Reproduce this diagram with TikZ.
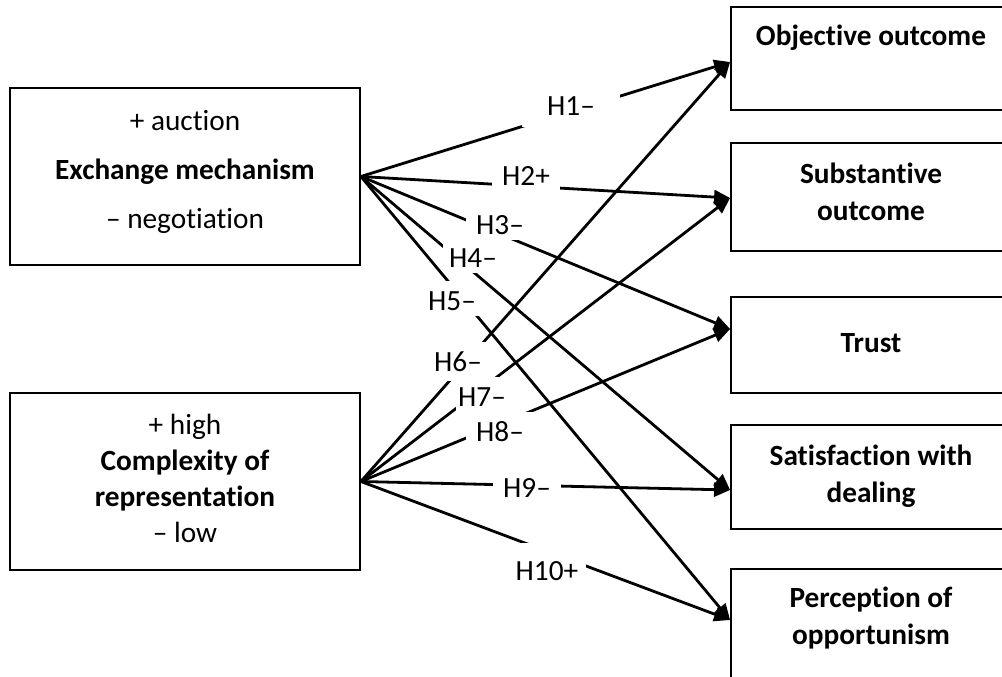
\documentclass[tikz,border=0pt]{standalone}
\usepackage{fontspec}
\setmainfont{Carlito}[Ligatures={NoCommon,NoContextual}]
\usetikzlibrary{arrows.meta}
\begin{document}
\begin{tikzpicture}[x=1pt,y=-1pt,
  txt/.style={font=\fontsize{29.3}{36}\selectfont},
  box/.style={draw, line width=1.8pt, inner sep=0pt},
  lbox/.style={box, minimum width=350pt, minimum height=177pt},
  rbox/.style={box, minimum width=280pt},
  ltext/.style={align=center, inner sep=0pt, txt},
  rtext/.style={align=center, inner sep=0pt, font=\fontsize{29.3}{37}\selectfont\bfseries},
  arr/.style={line width=2.8pt, -{Triangle[length=16pt,width=14pt]}},
  hyp/.style={fill=white, inner xsep=10pt, inner ysep=3pt, text height=27pt, text depth=2pt, anchor=base, txt}
]
\useasboundingbox (0,0) rectangle (1002,677);
\clip (0,0) rectangle (1002,677);

% left boxes
\node[lbox, label={[ltext, yshift=4.5pt]center:{+ auction\\[13pt]\textbf{Exchange mechanism}\\[13pt]– negotiation}}] (ex) at (185,176.5) {};
\node[lbox, label={[ltext, yshift=3.5pt]center:{+ high\\\textbf{Complexity of}\\\textbf{representation}\\– low}}] (cx) at (185,481.5) {};

% right boxes
\node[rbox, minimum height=103pt, label={[rtext, yshift=21pt]center:Objective outcome}] (obj) at (871,58.5) {};
\node[rbox, minimum height=108pt, label={[rtext, yshift=5pt]center:{Substantive\\outcome}}] (sub) at (871,197) {};
\node[rbox, minimum height=96pt, label={[rtext, yshift=2pt]center:Trust}] (tru) at (871,345) {};
\node[rbox, minimum height=104pt, label={[rtext, yshift=1pt]center:{Satisfaction with\\dealing}}] (sat) at (871,477) {};
\node[rbox, minimum height=125pt, label={[rtext, yshift=13pt]center:{Perception of\\opportunism}}] (per) at (871,631.5) {};

% arrows
\draw[arr] (ex.east) -- ([yshift=-3.5pt]obj.west);
\draw[arr] (ex.east) -- ([yshift=-1pt]sub.west);
\draw[arr] (ex.east) -- ([yshift=16pt]tru.west);
\draw[arr] (ex.east) -- ([yshift=-13pt]sat.west);
\draw[arr] (ex.east) -- ([yshift=11.5pt]per.west);
\draw[arr] (cx.east) -- ([yshift=-3.5pt]obj.west);
\draw[arr] (cx.east) -- ([yshift=-1pt]sub.west);
\draw[arr] (cx.east) -- ([yshift=16pt]tru.west);
\draw[arr] (cx.east) -- ([yshift=-13pt]sat.west);
\draw[arr] (cx.east) -- ([yshift=11.5pt]per.west);

% hypothesis labels
\node[hyp, inner xsep=25pt, text depth=8pt] (h1) at (571,115.5) {H1–};
\node[hyp] (h2) at (526,185.5) {H2+};
\node[hyp] (h3) at (500,234.5) {H3–};
\node[hyp, inner xsep=6pt] (h4) at (473,267.5) {H4–};
\node[hyp, inner xsep=3pt] (h5) at (452,310.5) {H5–};
\node[hyp, text depth=6pt] (h6) at (458,371.5) {H6–};
\node[hyp, inner xsep=2pt] (h7) at (482,406.5) {H7–};
\node[hyp] (h8) at (500,441.5) {H8–};
\node[hyp, inner xsep=10pt] (h9) at (527,497.5) {H9–};
\node[hyp, inner xsep=7.5pt, text height=35pt] (h10) at (547,580.5) {H10+};
\end{tikzpicture}
\end{document}
